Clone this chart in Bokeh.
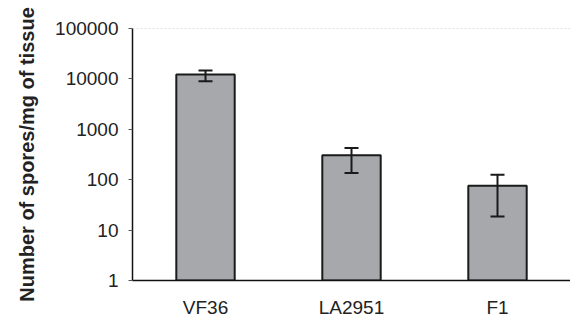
from bokeh.plotting import figure
from bokeh.models import FixedTicker, Whisker, TeeHead, ColumnDataSource, Span
from bokeh.embed import file_html
from bokeh.resources import INLINE

categories = ["VF36", "LA2951", "F1"]
spores = [12200, 305, 76]
err_upper = [14600, 425, 126]
err_lower = [8960, 136, 18.6]
y_ticks = [1, 10, 100, 1000, 10000, 100000]
y_tick_labels = ["1", "10", "100", "1000", "10000", "100000"]

FONT = "Liberation Sans"

src = ColumnDataSource(dict(cat=categories, val=spores, up=err_upper, lo=err_lower,
                            base=[1] * len(categories)))

p = figure(width=570, height=324, x_range=categories, y_range=(1, 100000),
           y_axis_type="log", output_backend="svg", toolbar_location=None,
           min_border_left=132, min_border_right=0, min_border_top=28, min_border_bottom=44)
p.x_range.range_padding = 0
p.background_fill_color = "white"
p.border_fill_color = "white"
p.outline_line_color = None
p.grid.visible = False

p.vbar(x="cat", top="val", bottom="base", width=0.4, source=src,
       fill_color="#a7a8ac", line_color="#1a1a1a", line_width=2)

w = Whisker(base="cat", upper="up", lower="lo", source=src, level="overlay",
            line_color="#1a1a1a", line_width=2,
            upper_head=TeeHead(size=14, line_color="#1a1a1a", line_width=2),
            lower_head=TeeHead(size=14, line_color="#1a1a1a", line_width=2))
p.add_layout(w)

p.add_layout(Span(location=100000, dimension="width", line_color="#bbbbbb",
                  line_width=1, line_dash="2 2"))

ya = p.yaxis[0]
ya.ticker = FixedTicker(ticks=y_ticks)
ya.major_label_overrides = {t: l for t, l in zip(y_ticks, y_tick_labels)}
ya.minor_tick_line_color = None
ya.major_tick_out = 4
ya.major_tick_in = 0
ya.major_label_standoff = 10
ya.axis_line_width = 1.5
ya.axis_line_color = "#111111"
ya.major_tick_line_color = "#555555"
ya.major_label_text_font = FONT
ya.major_label_text_font_size = "19px"
ya.major_label_text_color = "#222222"
ya.axis_label = "Number of spores/mg of tissue"
ya.axis_label_text_font = FONT
ya.axis_label_text_font_style = "bold"
ya.axis_label_text_font_size = "20px"
ya.axis_label_text_color = "#222222"
ya.axis_label_standoff = 14

xa = p.xaxis[0]
xa.major_tick_line_color = None
xa.minor_tick_line_color = None
xa.axis_line_width = 1.5
xa.axis_line_color = "#111111"
xa.major_label_text_font = FONT
xa.major_label_text_font_size = "19px"
xa.major_label_text_color = "#222222"
xa.major_label_standoff = 10

open("out.html", "w").write(file_html(p, INLINE))
